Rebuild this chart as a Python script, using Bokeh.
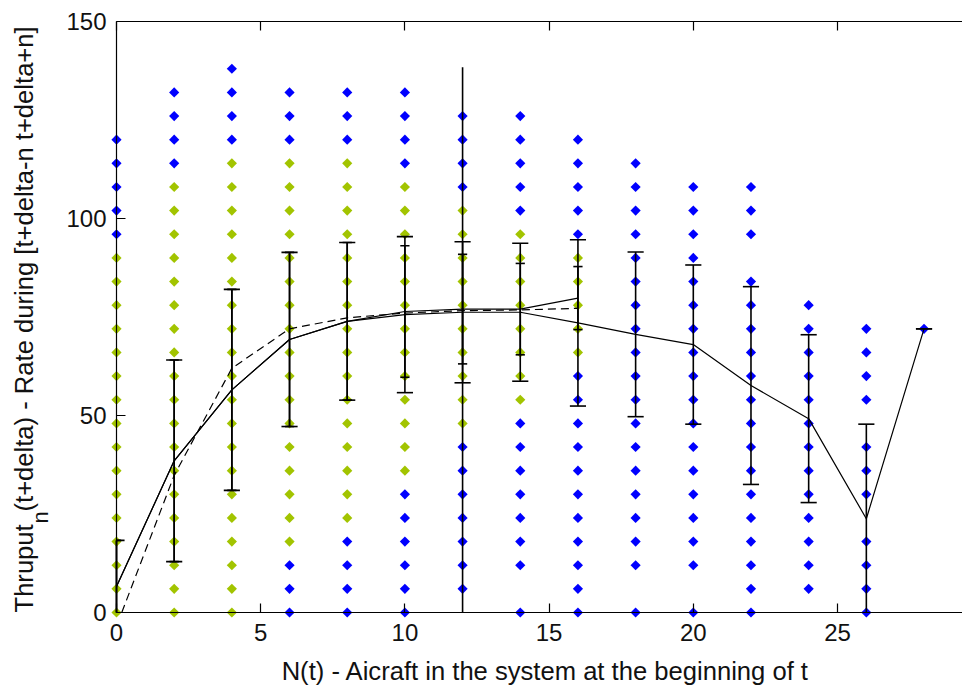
import numpy as np
from bokeh.plotting import figure
from bokeh.models import Range1d, LinearAxis, FixedTicker, Label
from bokeh.embed import file_html
from bokeh.resources import INLINE

# Aircraft count at the beginning of the interval
n_aircraft = [0, 2, 4, 6, 8, 10, 12, 14, 16, 18, 20, 22, 24, 26, 28]

# Observed throughput rates per aircraft count: inside the typical band ...
green_rates = [
    [0, 6, 12, 18, 24, 30, 36, 42, 48, 54, 60, 66, 72, 78, 84, 90],
    [0, 6, 12, 18, 24, 30, 36, 42, 48, 54, 60, 66, 72, 78, 84, 90, 96, 102, 108],
    [0, 6, 12, 18, 24, 30, 36, 42, 48, 54, 60, 66, 72, 78, 84, 90, 96, 102, 108, 114],
    [18, 24, 30, 36, 42, 48, 54, 60, 66, 72, 78, 84, 90, 96, 102, 108, 114],
    [24, 30, 36, 42, 48, 54, 60, 66, 72, 78, 84, 90, 96, 102, 108, 114],
    [36, 42, 48, 54, 60, 66, 72, 78, 84, 90, 96, 102, 108],
    [48, 54, 60, 66, 72, 78, 84, 90, 96, 102],
    [54, 60, 66, 72, 78, 84, 90, 96],
    [66, 72, 78, 84, 90],
    [], [], [], [], [], [],
]
# ... and outside of it
blue_rates = [
    [96, 102, 108, 114, 120],
    [114, 120, 126, 132],
    [120, 126, 132, 138],
    [0, 6, 12, 120, 126, 132],
    [0, 6, 12, 18, 120, 126, 132],
    [0, 6, 12, 18, 24, 30, 114, 120, 126, 132],
    [6, 12, 18, 24, 30, 36, 42, 108, 114, 120, 126],
    [0, 12, 18, 24, 30, 36, 42, 48, 102, 108, 114, 120, 126],
    [0, 6, 12, 18, 24, 30, 36, 42, 48, 54, 60, 96, 102, 108, 114, 120],
    [0, 12, 18, 24, 30, 36, 42, 48, 54, 60, 66, 72, 78, 84, 90, 96, 102, 108, 114],
    [0, 12, 18, 24, 30, 36, 42, 48, 54, 60, 66, 72, 78, 84, 90, 96, 102, 108],
    [0, 6, 12, 18, 24, 30, 36, 42, 48, 54, 60, 66, 72, 78, 84, 96, 102, 108],
    [6, 12, 18, 24, 30, 36, 42, 48, 54, 60, 66, 72, 78],
    [0, 6, 12, 18, 30, 36, 42, 54, 60, 66, 72],
    [72],
]

# Mean throughput and standard deviation, all samples
mean_all = [6.6, 38.5, 56.5, 69.3, 73.9, 75.6, 76.2, 76.2, 73.5, 70.6, 68.0, 57.6, 49.2, 23.8, 72.0]
std_all = [11.7, 25.6, 25.5, 22.1, 20.0, 19.8, 17.9, 17.5, 21.1, 20.9, 20.2, 25.1, 21.3, 24.0, 0.0]

# Mean and standard deviation for the subset up to 16 aircraft
n_sub = [0, 2, 4, 6, 8, 10, 12, 14, 16]
mean_sub = [6.6, 38.5, 56.5, 69.3, 73.9, 76.4, 77.0, 77.0, 79.8]
std_sub = [11.7, 25.6, 25.5, 22.1, 20.0, 16.7, 13.9, 11.6, 8.0]

# Fitted throughput curve
n_fit = [0, 2, 4, 6, 8, 10, 12, 14, 16]
fit_rate = [-3.5, 34.8, 62.0, 72.0, 74.8, 76.0, 76.6, 76.8, 77.2]

# Single pooled estimate at capacity
n_cap = [12]
mean_cap = [69.2]
std_cap = [69.2]

x_ticks = [0, 5, 10, 15, 20, 25]
y_ticks = [0, 50, 100, 150]

GREEN = "#A2C400"
BLUE = "#0000FF"
FONT = "Liberation Sans"
TEXT = "#111111"

X_MIN, X_MAX = 0, 30
Y_MIN, Y_MAX = 0, 150

# The plotting frame spans the whole canvas; the axes sit at fixed data
# locations so that markers on the axis lines are drawn in full.
W, H = 962, 685
AX_LEFT, AX_TOP, AX_BOTTOM = 116, 21, 612
px_x = (837 - 116) / 25.0
px_y = (AX_BOTTOM - AX_TOP) / float(Y_MAX - Y_MIN)
x_range = Range1d(-AX_LEFT / px_x, (W - AX_LEFT) / px_x)
y_range = Range1d(-(H - AX_BOTTOM) / px_y, Y_MAX + AX_TOP / px_y)

p = figure(width=W, height=H, output_backend="svg", toolbar_location=None,
           x_range=x_range, y_range=y_range,
           x_axis_location=None, y_axis_location=None,
           min_border=0)
p.outline_line_color = None
p.background_fill_color = "white"
p.border_fill_color = "white"
p.grid.visible = False

# scatter of observed rates
gx, gy, bx, by = [], [], [], []
for n, g, b in zip(n_aircraft, green_rates, blue_rates):
    gx += [n] * len(g)
    gy += g
    bx += [n] * len(b)
    by += b
p.scatter(gx, gy, marker="square", angle=np.pi / 4, size=7.2,
          fill_color=GREEN, line_color=None)
p.scatter(bx, by, marker="square", angle=np.pi / 4, size=7.2,
          fill_color=BLUE, line_color=None)


def clip_to_axes(xs, ys):
    """Cut a polyline at the lower edge of the axes box."""
    ox, oy = [], []
    pts = list(zip(xs, ys))
    for i, (x, y) in enumerate(pts):
        if i > 0:
            x0, y0 = pts[i - 1]
            if (y0 < Y_MIN) != (y < Y_MIN):
                t = (Y_MIN - y0) / (y - y0)
                ox.append(x0 + t * (x - x0))
                oy.append(Y_MIN)
        if y >= Y_MIN:
            ox.append(x)
            oy.append(y)
    return ox, oy


def errorbars(xs, means, stds, width=1.6):
    xs = np.asarray(xs, float)
    m = np.asarray(means, float)
    s = np.asarray(stds, float)
    lo, hi = m - s, m + s
    tee = (xs.max() - xs.min()) / 100.0
    p.segment(xs, np.clip(lo, Y_MIN, Y_MAX), xs, np.clip(hi, Y_MIN, Y_MAX),
              line_color="black", line_width=width)
    if tee > 0:
        top = (hi >= Y_MIN) & (hi <= Y_MAX)
        bot = (lo >= Y_MIN) & (lo <= Y_MAX)
        left_hi = np.clip(xs[top] - tee, X_MIN, None)
        left_lo = np.clip(xs[bot] - tee, X_MIN, None)
        p.segment(left_hi, hi[top], xs[top] + tee, hi[top],
                  line_color="black", line_width=width)
        p.segment(left_lo, lo[bot], xs[bot] + tee, lo[bot],
                  line_color="black", line_width=width)


errorbars(n_aircraft, mean_all, std_all)
errorbars(n_sub, mean_sub, std_sub)
errorbars(n_cap, mean_cap, std_cap)

p.line(n_aircraft, mean_all, line_color="black", line_width=1.2)
p.line(n_sub, mean_sub, line_color="black", line_width=1.2)
fx, fy = clip_to_axes(n_fit, fit_rate)
p.line(fx, fy, line_color="black", line_width=1.2, line_dash="8 5")

# axes
tick_font = "24px"
common = dict(major_tick_in=9, major_tick_out=0, minor_tick_line_color=None,
              axis_line_color="black", major_tick_line_color="black",
              axis_line_width=1.2, major_tick_line_width=1.2)
yax = LinearAxis(fixed_location=X_MIN, bounds=(Y_MIN, Y_MAX),
                 ticker=FixedTicker(ticks=y_ticks),
                 major_label_text_font=FONT, major_label_text_font_size=tick_font,
                 major_label_text_color=TEXT, major_label_standoff=10, **common)
p.add_layout(yax, "left")

xax = LinearAxis(fixed_location=Y_MIN, bounds=(X_MIN, X_MAX),
                 ticker=FixedTicker(ticks=x_ticks),
                 major_label_text_font=FONT, major_label_text_font_size=tick_font,
                 major_label_text_color=TEXT, major_label_standoff=11, **common)
p.add_layout(xax, "below")

tax = LinearAxis(fixed_location=Y_MAX, bounds=(X_MIN, X_MAX),
                 ticker=FixedTicker(ticks=x_ticks),
                 major_label_text_color=None, major_label_text_font_size="1px",
                 major_label_standoff=0, **common)
p.add_layout(tax, "above")

# axis titles (anchors mark the middle of each text line)
label_font = "25.6px"
p.add_layout(Label(x=545, y=H - 670, x_units="screen", y_units="screen",
                   text="N(t) - Aicraft in the system at the beginning of t",
                   text_font=FONT, text_font_size=label_font, text_color=TEXT,
                   text_align="center", text_baseline="middle"))
p.add_layout(Label(x=23, y=H - 612, x_units="screen", y_units="screen", angle=np.pi / 2,
                   text="Thruput", text_font=FONT, text_font_size=label_font,
                   text_color=TEXT, text_align="left", text_baseline="middle"))
p.add_layout(Label(x=40, y=H - 523, x_units="screen", y_units="screen", angle=np.pi / 2,
                   text="n", text_font=FONT, text_font_size="22px",
                   text_color=TEXT, text_align="left", text_baseline="middle"))
p.add_layout(Label(x=23, y=H - 511, x_units="screen", y_units="screen", angle=np.pi / 2,
                   text="(t+delta) - Rate during [t+delta-n t+delta+n]",
                   text_font=FONT, text_font_size=label_font,
                   text_color=TEXT, text_align="left", text_baseline="middle"))

open("out.html", "w").write(file_html(p, INLINE))
